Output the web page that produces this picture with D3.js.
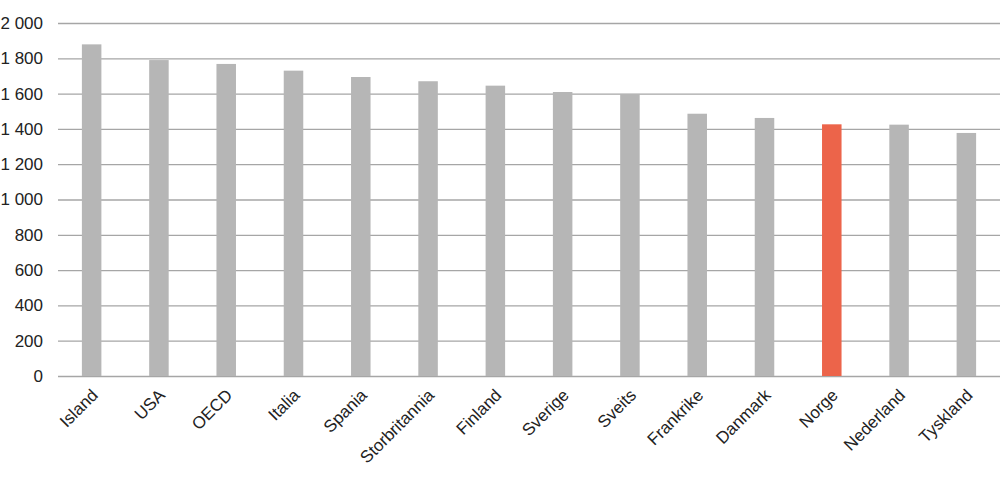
<!DOCTYPE html>
<html>
<head>
<meta charset="utf-8">
<script src="https://cdn.jsdelivr.net/npm/d3@7"></script>
<style>
  body { margin: 0; background: #fff; }
  text { font-family: "Liberation Sans", Arial, sans-serif; fill: #222; }
</style>
</head>
<body>
<svg></svg>
<script>
// chart data
let countries = ['Island', 'USA', 'OECD', 'Italia', 'Spania', 'Storbritannia', 'Finland',
  'Sverige', 'Sveits', 'Frankrike', 'Danmark', 'Norge', 'Nederland', 'Tyskland'];
let hours = [1879, 1790, 1768, 1730, 1694, 1670, 1645, 1609, 1598, 1486, 1462, 1426, 1424, 1377];
let yTicks = [0, 200, 400, 600, 800, 1000, 1200, 1400, 1600, 1800, 2000];
let highlight = 'Norge';

// configuration of svg/plot area
let config = { svg: {}, margin: {}, plot: {} };
config.svg.width = 1000;
config.svg.height = 486;

config.margin.top = 23;
config.margin.right = 0;
config.margin.bottom = 110;
config.margin.left = 58;

config.plot.x = config.margin.left;
config.plot.y = config.margin.top;
config.plot.width = config.svg.width - config.margin.left - config.margin.right;
config.plot.height = 376 - config.margin.top;

let svg = d3.select('svg')
  .attr('width', config.svg.width)
  .attr('height', config.svg.height);

let plot = svg.append('g')
  .attr('transform', translate(config.plot.x, config.plot.y));

// scales
let scale = {};
scale.x = d3.scaleBand()
  .domain(countries)
  .range([0, config.plot.width])
  .paddingInner(0.71)
  .paddingOuter(0.355);

scale.y = d3.scaleLinear()
  .domain([0, 2000])
  .range([config.plot.height, 0]);

// gridlines
let axisY = d3.axisLeft(scale.y)
  .tickValues(yTicks)
  .tickSize(-config.plot.width)
  .tickPadding(15)
  .tickFormat(d => d3.format(',')(d).replace(',', ' '));

let gy = plot.append('g').attr('class', 'y-axis').call(axisY);
gy.select('.domain').remove();
gy.selectAll('line').attr('stroke', '#a6a6a6').attr('stroke-width', 1.3);
gy.selectAll('text').style('font-size', '17px').attr('fill', '#222');

// bars
plot.selectAll('rect.bar')
  .data(countries)
  .enter()
  .append('rect')
  .attr('class', 'bar')
  .attr('x', d => scale.x(d))
  .attr('y', (d, i) => scale.y(hours[i]))
  .attr('width', scale.x.bandwidth())
  .attr('height', (d, i) => scale.y(0) - scale.y(hours[i]))
  .attr('fill', d => d === highlight ? '#ec644a' : '#b6b6b6');

// x labels
let axisX = d3.axisBottom(scale.x).tickSize(0).tickPadding(0);
let gx = plot.append('g')
  .attr('class', 'x-axis')
  .attr('transform', translate(0, config.plot.height))
  .call(axisX);
gx.select('.domain').remove();
gx.selectAll('text')
  .attr('y', 0)
  .attr('dy', '0.35em')
  .attr('text-anchor', 'end')
  .attr('transform', 'translate(3,16) rotate(-45)')
  .style('font-size', '17px')
  .attr('fill', '#222');

function translate(x, y) {
  return 'translate(' + x + ',' + y + ')';
}
</script>
</body>
</html>
